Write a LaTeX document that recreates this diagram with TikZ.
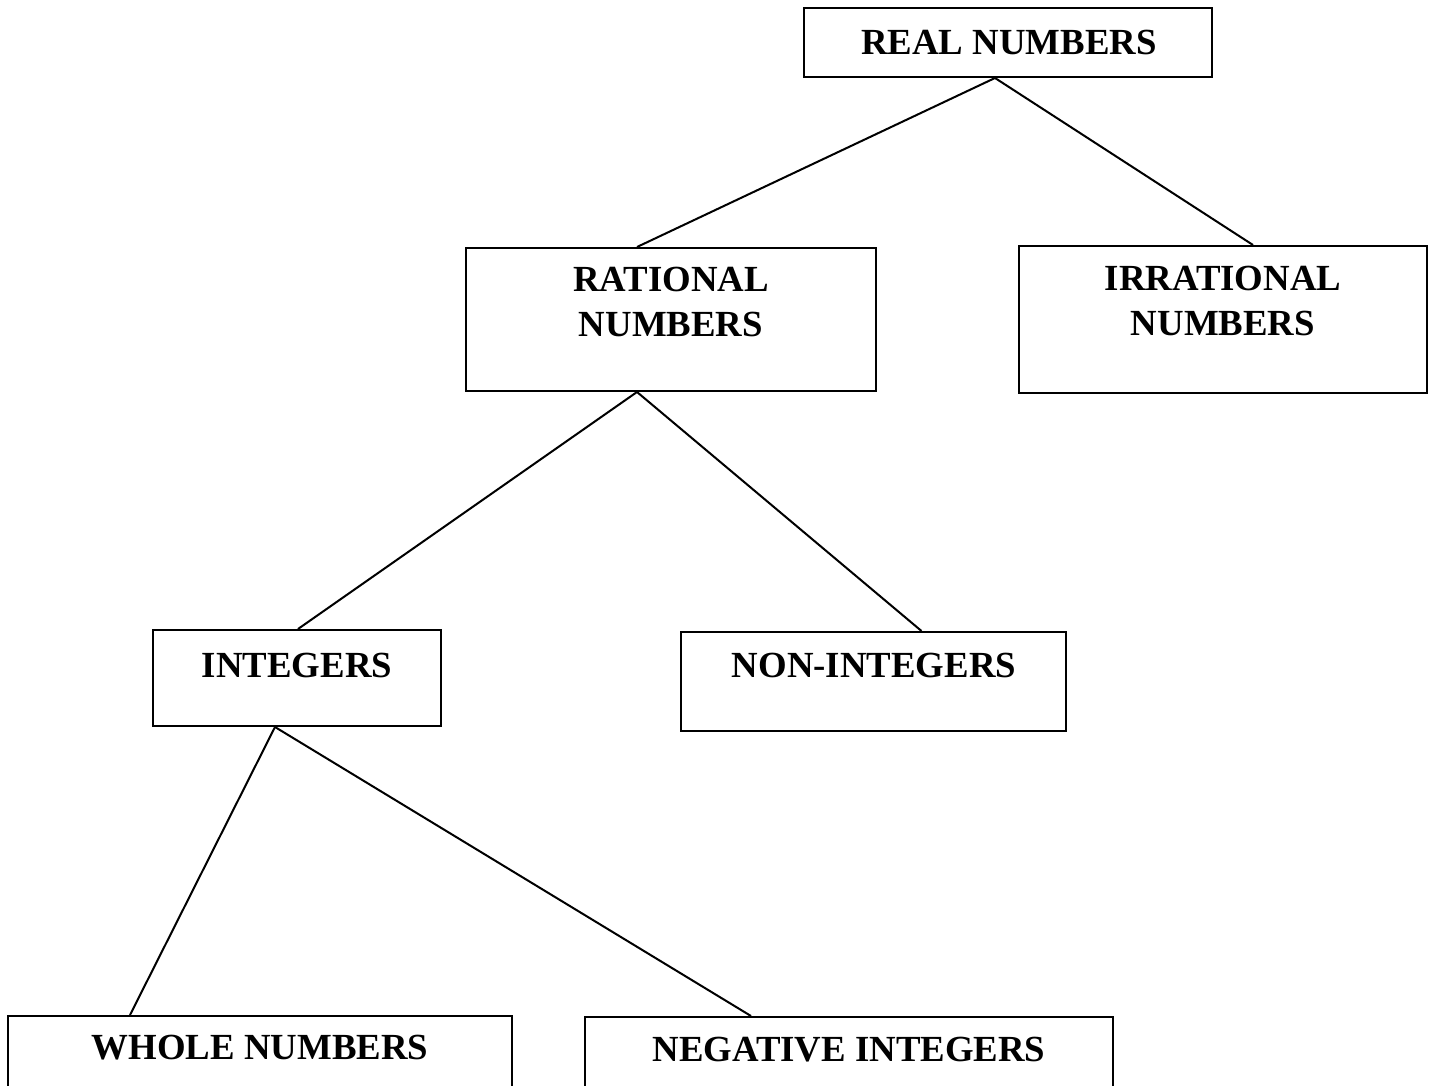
\documentclass[tikz,border=0pt]{standalone}
\usepackage{fontspec}
\setmainfont{Liberation Serif}
\begin{document}
\begin{tikzpicture}[x=0.5pt,y=-0.5pt,line width=1pt,
  box/.style={draw,inner sep=0pt},
  lbl/.style={font=\fontsize{18.4}{22.5}\selectfont\bfseries,align=center,inner sep=0pt}]
\clip (0,0) rectangle (1432,1086);
% boxes
\node[box,minimum width=204pt,minimum height=34.5pt] (real) at (1008,42.5) {};
\node[box,minimum width=205pt,minimum height=71.5pt] (rat) at (671,319.5) {};
\node[box,minimum width=204pt,minimum height=73.5pt] (irr) at (1223,319.5) {};
\node[box,minimum width=144pt,minimum height=48pt] (int) at (297,678) {};
\node[box,minimum width=192.5pt,minimum height=49.5pt] (nonint) at (873.5,681.5) {};
\node[box,minimum width=252pt,minimum height=37pt] (whole) at (260,1053) {};
\node[box,minimum width=264pt,minimum height=36.5pt] (neg) at (849,1053.5) {};
% texts
\node[lbl] (reallbl) at (1009,42) {REAL NUMBERS};
\node[lbl] (ratlbl) at (671,302) {RATIONAL\\NUMBERS};
\node[lbl] (irrlbl) at (1223,301) {IRRATIONAL\\NUMBERS};
\node[lbl] (intlbl) at (297,665) {INTEGERS};
\node[lbl] (nonintlbl) at (874,665) {NON-INTEGERS};
\node[lbl] (wholelbl) at (260,1048) {WHOLE NUMBERS};
\node[lbl] (neglbl) at (849,1050) {NEGATIVE INTEGERS};
% connectors
\draw ([xshift=-6.5pt]real.south) -- ([xshift=-17pt]rat.north);
\draw ([xshift=-6.5pt]real.south) -- ([xshift=15pt]irr.north);
\draw ([xshift=-17pt]rat.south) -- ([xshift=0.5pt]int.north);
\draw ([xshift=-17pt]rat.south) -- ([xshift=24pt]nonint.north);
\draw ([xshift=-11pt]int.south) -- ([xshift=-65pt]whole.north);
\draw ([xshift=-11pt]int.south) -- ([xshift=-49pt]neg.north);
\end{tikzpicture}
\end{document}
